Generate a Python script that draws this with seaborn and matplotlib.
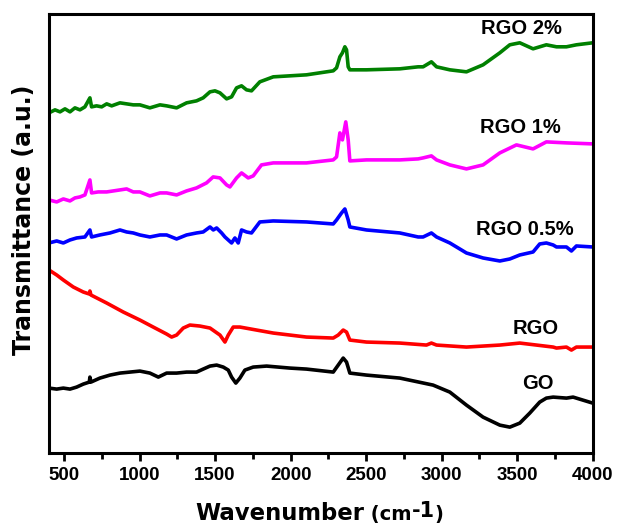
import seaborn as sns
import matplotlib.pyplot as plt
from matplotlib.ticker import MultipleLocator

# FTIR spectra; heights in arbitrary units (curves are offset)
go_wn = [400, 451, 495, 539, 583, 627, 667, 671, 678, 737, 804, 870, 936, 1002, 1068, 1124, 1179,
         1245, 1311, 1377, 1421, 1466, 1510, 1554, 1587, 1609, 1637, 1664, 1697, 1752, 1841, 1995,
         2105, 2282, 2315, 2348, 2370, 2392, 2502, 2723, 2943, 3054, 3164, 3274, 3385, 3451, 3517,
         3583, 3649, 3693, 3738, 3826, 3870, 4000]
go_t = [65, 64, 65, 64, 66, 69, 71, 76, 71, 75, 78, 80, 81, 82, 80, 76, 80,
        80, 81, 81, 84, 87, 88, 86, 83, 76, 70, 75, 83, 86, 87, 85,
        84, 81, 88, 95, 91, 80, 78, 75, 68, 61, 48, 36, 28, 26, 30,
        40, 51, 55, 56, 55, 56, 50]

rgo_wn = [400, 451, 495, 561, 627, 667, 671, 678, 782, 892, 1002, 1090, 1179, 1212, 1245, 1289, 1333,
          1399, 1466, 1532, 1565, 1587, 1620, 1664, 1774, 1885, 2105, 2282, 2315, 2348, 2370, 2392,
          2502, 2723, 2899, 2932, 2966, 3164, 3385, 3517, 3738, 3760, 3826, 3859, 3892, 4000]
rgo_t = [183, 178, 173, 166, 161, 159, 162, 158, 150, 141, 133, 126, 119, 116, 118, 125, 128,
         127, 125, 118, 111, 118, 126, 126, 123, 120, 116, 115, 118, 123, 121, 113,
         111, 110, 108, 110, 108, 106, 108, 110, 106, 105, 106, 103, 106, 106]

rgo05_wn = [400, 451, 495, 539, 583, 638, 671, 682, 737, 804, 870, 914, 958, 1002, 1068, 1135, 1179,
            1245, 1311, 1377, 1421, 1466, 1488, 1510, 1543, 1565, 1587, 1609, 1631, 1653, 1675, 1708,
            1741, 1796, 1885, 2105, 2282, 2304, 2337, 2359, 2381, 2392, 2502, 2723, 2844, 2877, 2932,
            2966, 3054, 3164, 3274, 3385, 3451, 3517, 3605, 3649, 3693, 3738, 3760, 3826, 3859, 3892,
            4000]
rgo05_t = [210, 212, 210, 213, 215, 216, 223, 216, 218, 220, 223, 221, 220, 218, 216, 218, 218,
           214, 218, 220, 221, 226, 223, 225, 220, 216, 213, 210, 215, 210, 223, 221,
           220, 231, 232, 231, 229, 233, 240, 244, 233, 226, 223, 220, 216, 216, 220,
           216, 210, 200, 195, 192, 194, 198, 201, 209, 210, 208, 206, 206, 202, 207,
           206]

rgo1_wn = [400, 451, 495, 539, 572, 605, 638, 671, 682, 726, 782, 870, 914, 958, 1002, 1068, 1135,
           1179, 1245, 1311, 1377, 1443, 1487, 1532, 1576, 1598, 1642, 1675, 1719, 1752, 1807, 1885,
           2105, 2282, 2304, 2326, 2343, 2365, 2381, 2392, 2502, 2723, 2844, 2877, 2932, 2966, 3054,
           3164, 3274, 3385, 3495, 3605, 3693, 3826, 4000]
rgo1_t = [253, 251, 254, 252, 255, 256, 258, 273, 260, 261, 261, 263, 264, 261, 261, 257, 260,
          260, 258, 262, 265, 270, 276, 275, 268, 266, 275, 280, 275, 277, 288, 290,
          290, 293, 296, 320, 313, 331, 313, 292, 293, 293, 294, 295, 297, 293, 288,
          284, 288, 300, 308, 304, 311, 310, 309]

rgo2_wn = [400, 440, 473, 506, 539, 572, 605, 638, 671, 682, 715, 749, 782, 815, 870, 914, 958,
           1002, 1068, 1135, 1179, 1245, 1311, 1377, 1421, 1466, 1499, 1532, 1576, 1609, 1642, 1675,
           1708, 1741, 1796, 1885, 2105, 2282, 2304, 2326, 2343, 2359, 2370, 2381, 2392, 2502, 2723,
           2844, 2877, 2932, 2966, 3054, 3164, 3274, 3385, 3451, 3517, 3605, 3649, 3693, 3760, 3826,
           3892, 4000]
rgo2_t = [340, 343, 341, 344, 341, 345, 343, 346, 355, 346, 347, 346, 349, 347, 350, 349, 348,
          348, 345, 348, 347, 345, 350, 352, 355, 361, 362, 360, 354, 356, 365, 367,
          363, 362, 371, 376, 378, 382, 385, 396, 400, 406, 403, 386, 383, 383, 384,
          386, 386, 391, 386, 383, 381, 388, 400, 408, 410, 404, 406, 408, 406, 406,
          408, 410]

names = ['GO', 'RGO', 'RGO 0.5%', 'RGO 1%', 'RGO 2%']
colors = ['black', '#ff0000', '#0000ff', '#ff00ff', '#008000']
label_x = [3636, 3623, 3550, 3523, 3530]
label_y = [70, 125, 223, 325, 424]

sns.set_style('ticks')
plt.rcParams['font.family'] = ['Liberation Sans', 'DejaVu Sans']
plt.rcParams['font.weight'] = 'bold'
plt.rcParams['text.color'] = 'black'
plt.rcParams['axes.labelcolor'] = 'black'
plt.rcParams['xtick.color'] = 'black'

fig = plt.figure(figsize=(6.2, 5.3), dpi=100)
ax = fig.add_axes([0.079, 0.145, 0.877, 0.829])

data = [(go_wn, go_t), (rgo_wn, rgo_t), (rgo05_wn, rgo05_t), (rgo1_wn, rgo1_t), (rgo2_wn, rgo2_t)]
for (wn, t), color, name, lx, ly in zip(data, colors, names, label_x, label_y):
    sns.lineplot(x=wn, y=t, color=color, linewidth=2.6, ax=ax, sort=False)
    ax.text(lx, ly, name, ha='center', va='center', fontsize=14.5, fontweight='bold')

ax.set_xlim(400, 4000)
ax.set_ylim(0, 439)
ax.set_yticks([])
ax.xaxis.set_major_locator(MultipleLocator(500))
ax.xaxis.set_minor_locator(MultipleLocator(250))
ax.tick_params(axis='x', which='major', length=6, width=2, labelsize=13.5, pad=4, direction='out')
ax.tick_params(axis='x', which='minor', length=4, width=2, direction='out')
for lab in ax.get_xticklabels():
    lab.set_fontweight('bold')
for sp in ax.spines.values():
    sp.set_visible(True)
    sp.set_linewidth(2.2)
    sp.set_color('black')

# axis titles: wide bold face, x title built from pieces like the original
W, H = 620.0, 530.0
renderer = fig.canvas.get_renderer()
x0 = 195
pieces = [('Wavenumber', 16.4, 520), (' (cm', 14, 520), ('-1', 15, 517), (')', 14, 520)]
for txt, size, base in pieces:
    t = fig.text(x0 / W, 1 - base / H, txt, fontsize=size, fontweight='bold',
                 family='DejaVu Sans', ha='left', va='baseline')
    x0 = t.get_window_extent(renderer).x1

fig.text(24 / W, 1 - 220 / H, 'Transmittance (a.u.)', rotation=90, fontsize=17,
         fontweight='bold', family='DejaVu Sans', ha='center', va='center')

fig.savefig('out.png', dpi=100)
